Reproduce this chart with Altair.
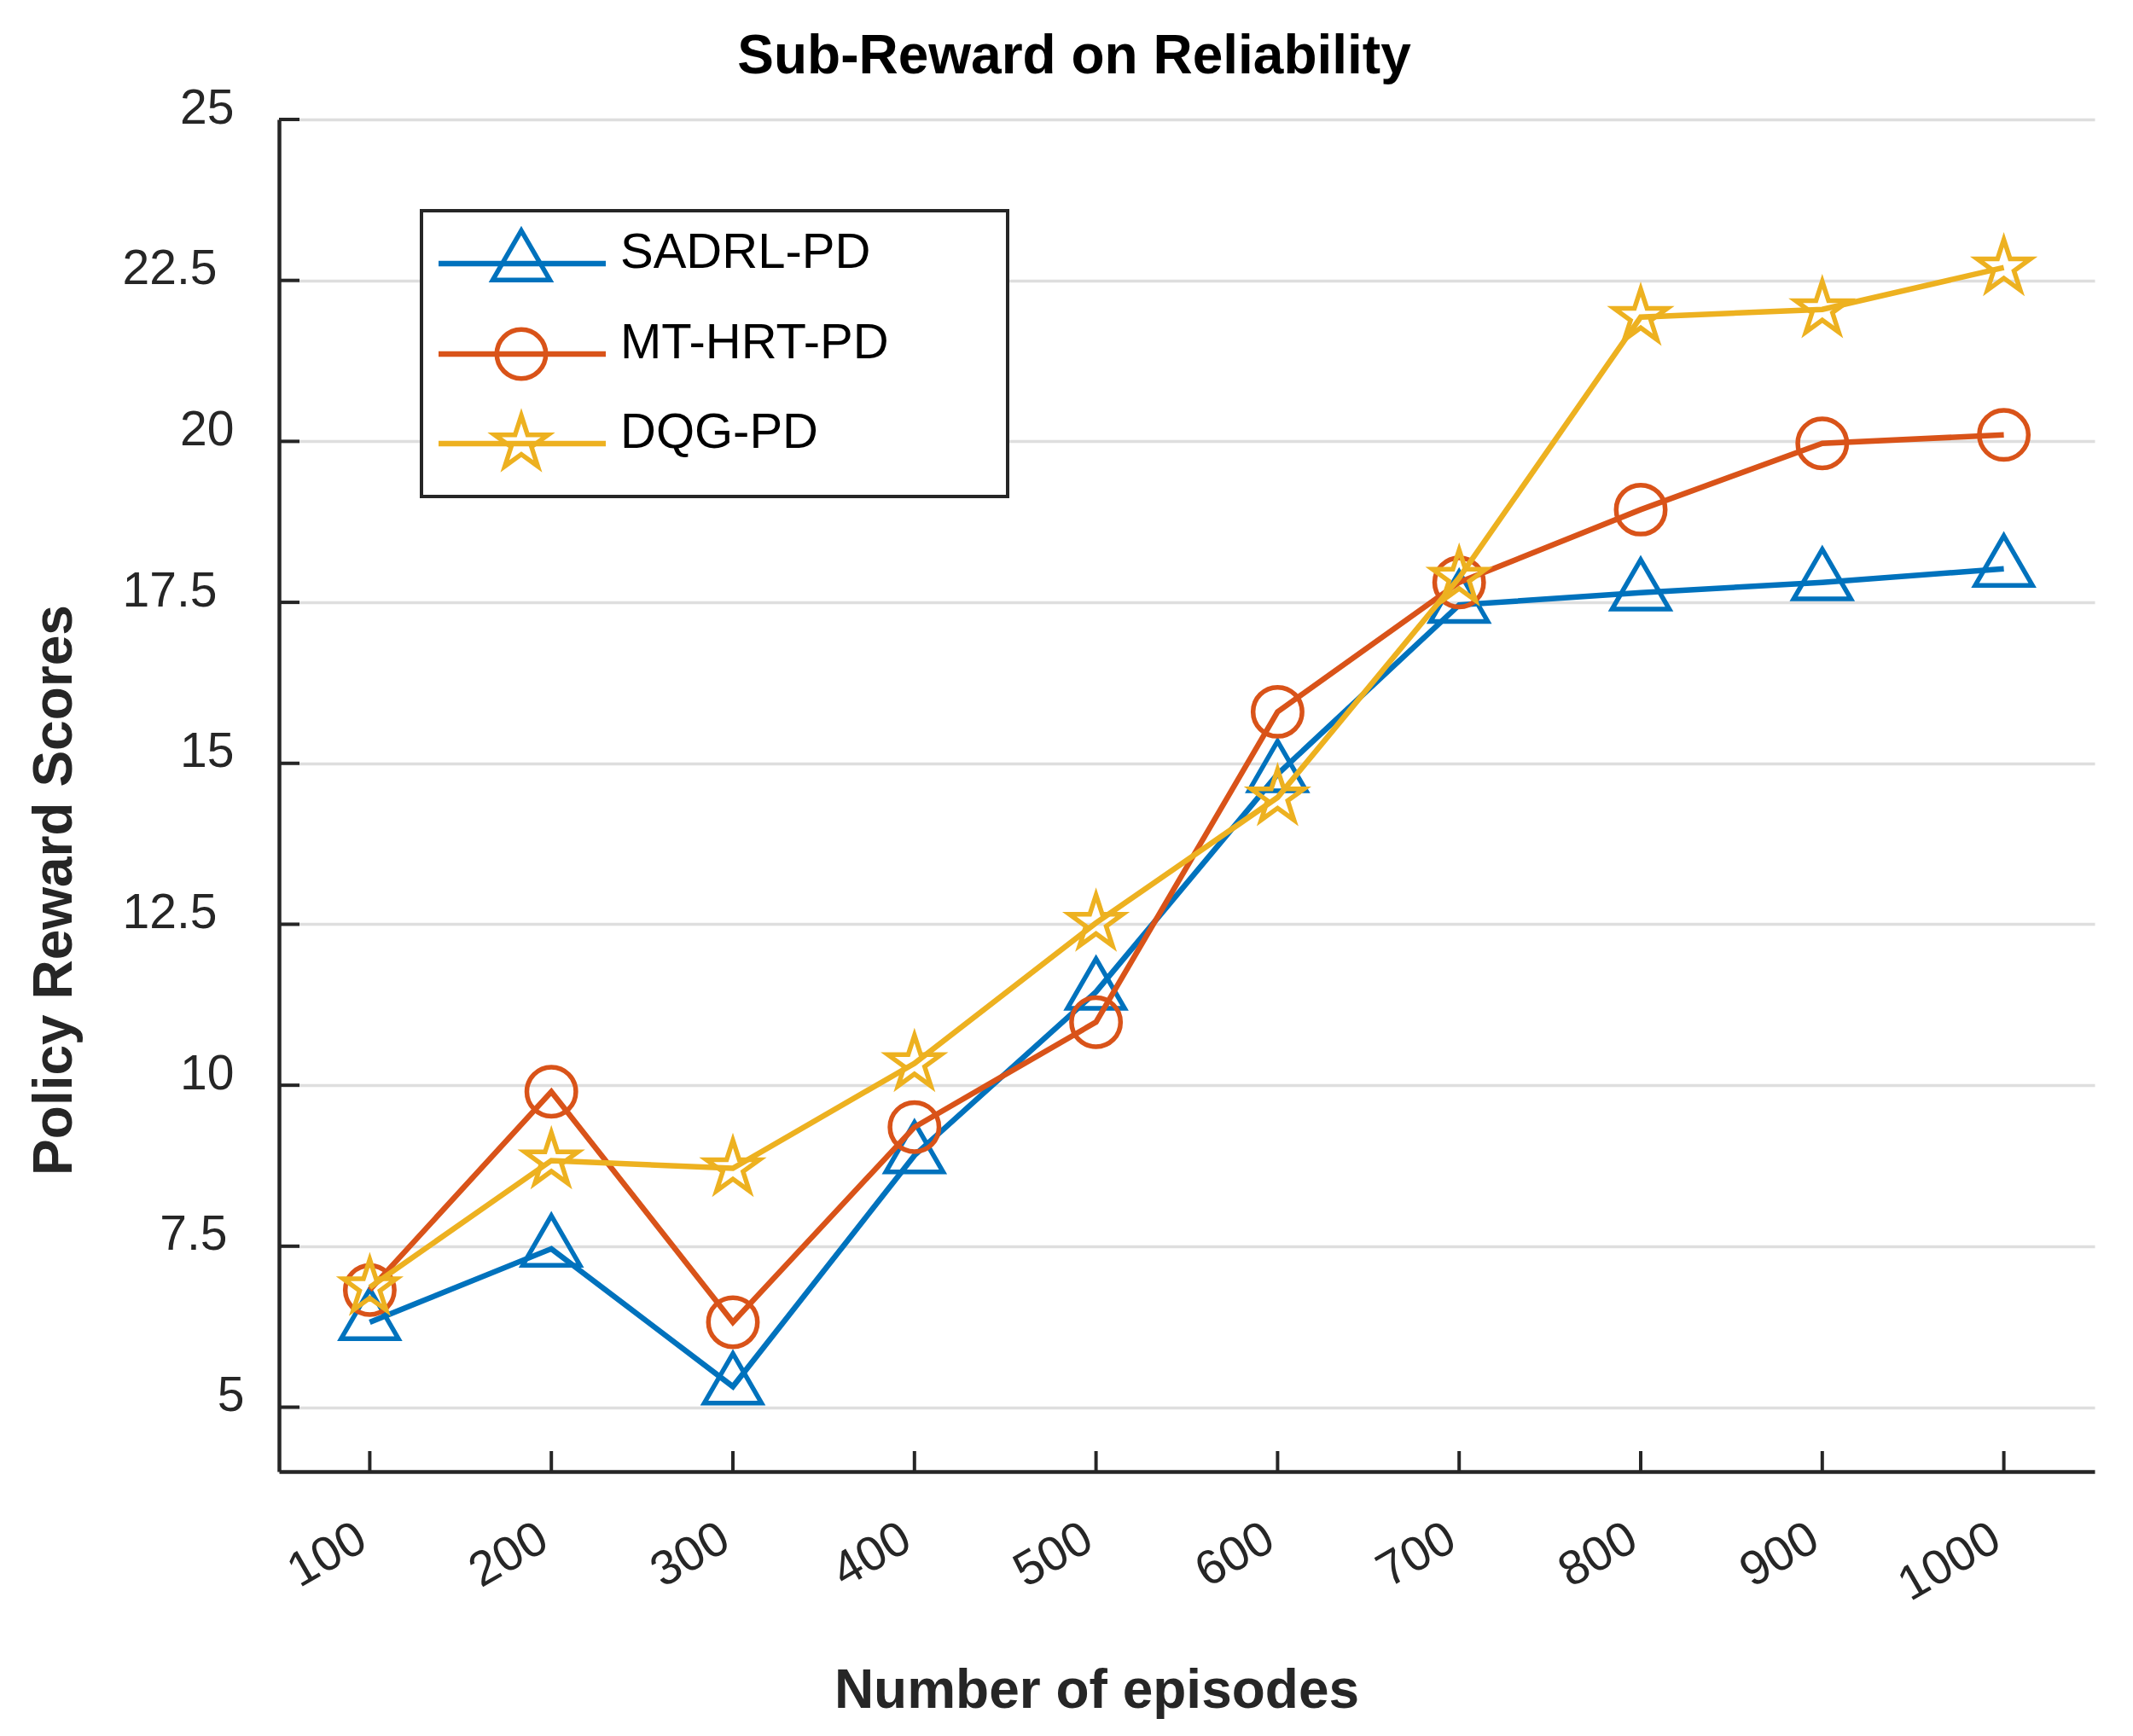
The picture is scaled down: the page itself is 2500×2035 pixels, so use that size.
import altair as alt
import pandas as pd

# ---------------- data ----------------
title_text = "Sub-Reward on Reliability"
x_title = "Number of episodes"
y_title = "Policy Reward Scores"

episodes = [100, 200, 300, 400, 500, 600, 700, 800, 900, 1000]
series_names = ["SADRL-PD", "MT-HRT-PD", "DQG-PD"]
sadrl_pd = [6.32, 7.46, 5.32, 8.91, 11.45, 14.83, 17.46, 17.65, 17.81, 18.02]
mt_hrt_pd = [6.82, 9.90, 6.32, 9.35, 10.98, 15.80, 17.81, 18.94, 19.97, 20.10]
dqg_pd = [6.86, 8.83, 8.71, 10.34, 12.52, 14.47, 17.88, 21.93, 22.05, 22.70]
y_ticks = [5, 7.5, 10, 12.5, 15, 17.5, 20, 22.5, 25]
x_ticks = episodes

# ---------------- style ----------------
FONT = "Liberation Sans"
AX = "#262626"
colors = ["#0072BD", "#D95319", "#EDB120"]
TRI = "M0,-1.155L1,0.577L-1,0.577Z"
STAR = ("M0,-1L0.2245,-0.309L0.9511,-0.309L0.3633,0.118L0.5878,0.809L0,0.382"
        "L-0.5878,0.809L-0.3633,0.118L-0.9511,-0.309L-0.2245,-0.309Z")
shapes = [TRI, "circle", STAR]
sizes = [4500, 3300, 4300]
LW = 6.5
MW = 5.5

W, H = 2128, 1585
xs = alt.Scale(domain=[50, 1050], nice=False, zero=False)
ys = alt.Scale(domain=[4, 25], nice=False, zero=False)

y_label_pad = {
    "condition": [
        {"test": "datum.value == 5", "value": 41},
        {"test": "datum.value == 7.5", "value": 61},
        {"test": "datum.value % 5 != 0", "value": 73},
    ],
    "value": 53,
}

x_axis = alt.Axis(
    values=x_ticks, format="d", ticks=False, grid=False,
    domainColor=AX, domainWidth=4.5,
    labelFont=FONT, labelFontSize=57, labelColor=AX,
    labelAngle=-30, labelAlign="right", labelBaseline="middle",
    labelPadding=74, labelOffset=-9,
    title=x_title, titleFont=FONT, titleFontSize=64, titleFontWeight="bold",
    titleColor=AX, titleX=958, titleY=276, titleAlign="center",
    titleBaseline="alphabetic",
)
y_axis = alt.Axis(
    values=y_ticks, format=".1~f", ticks=False, grid=True,
    gridColor="#dedede", gridWidth=3.5,
    domainColor=AX, domainWidth=4.5,
    labelFont=FONT, labelFontSize=57, labelColor=AX,
    labelAlign="right", labelBaseline="alphabetic", labelPadding=y_label_pad,
    labelOffset=4,
    title=y_title, titleFont=FONT, titleFontSize=64, titleFontWeight="bold",
    titleColor=AX, titleAngle=-90, titleX=-244, titleY=903, titleAlign="center",
    titleBaseline="alphabetic",
)

X = alt.X("episodes:Q", scale=xs, axis=x_axis)
Y = alt.Y("value:Q", scale=ys, axis=y_axis)

layers = []

# series lines and markers
all_vals = [sadrl_pd, mt_hrt_pd, dqg_pd]
for i, (name, vals) in enumerate(zip(series_names, all_vals)):
    df = pd.DataFrame({"episodes": episodes, "value": vals, "series": name})
    layers.append(alt.Chart(df).mark_line(
        color=colors[i], strokeWidth=LW, strokeJoin="miter").encode(x=X, y=Y))
    layers.append(alt.Chart(df).mark_point(
        shape=shapes[i], size=sizes[i], filled=False, color=colors[i],
        strokeWidth=MW, opacity=1).encode(x=X, y=Y))

# inward tick marks
ytick_df = pd.DataFrame({"value": y_ticks})
layers.append(alt.Chart(ytick_df).mark_rule(color=AX, strokeWidth=4).encode(
    y=Y, x=alt.value(0), x2=alt.value(24)))
xtick_df = pd.DataFrame({"episodes": x_ticks})
layers.append(alt.Chart(xtick_df).mark_rule(color=AX, strokeWidth=4).encode(
    x=X, y=alt.value(H), y2=alt.value(H - 24)))

# legend box
layers.append(alt.Chart(alt.Data(values=[{"k": 1}])).mark_rect(
    fill="white", stroke=AX, strokeWidth=4).encode(
    x=alt.value(167), x2=alt.value(854), y=alt.value(107), y2=alt.value(442)))

leg_y = [169, 275, 380]
for i, name in enumerate(series_names):
    d = alt.Data(values=[{"name": name}])
    layers.append(alt.Chart(d).mark_rule(color=colors[i], strokeWidth=LW).encode(
        x=alt.value(187), x2=alt.value(383), y=alt.value(leg_y[i])))
    layers.append(alt.Chart(d).mark_point(
        shape=shapes[i], size=sizes[i], filled=False, color=colors[i],
        strokeWidth=MW, opacity=1).encode(x=alt.value(284), y=alt.value(leg_y[i])))
    layers.append(alt.Chart(d).mark_text(
        font=FONT, fontSize=58, color="black", align="left",
        baseline="alphabetic").encode(
        x=alt.value(400), y=alt.value(leg_y[i] + 5), text="name:N"))

# chart title
layers.append(alt.Chart(alt.Data(values=[{"title": title_text}])).mark_text(
    font=FONT, fontSize=64, fontWeight="bold", color="black",
    align="center", baseline="alphabetic").encode(
    x=alt.value(932), y=alt.value(-54), text="title:N"))

chart = alt.layer(*layers).properties(
    width=W, height=H,
    autosize=alt.AutoSizeParams(type="none"),
    padding={"left": 319, "top": 132, "right": 37, "bottom": 300},
    background="white",
).configure_view(strokeWidth=0)

chart.save("out.html", embed_options={"renderer": "svg", "actions": False})
